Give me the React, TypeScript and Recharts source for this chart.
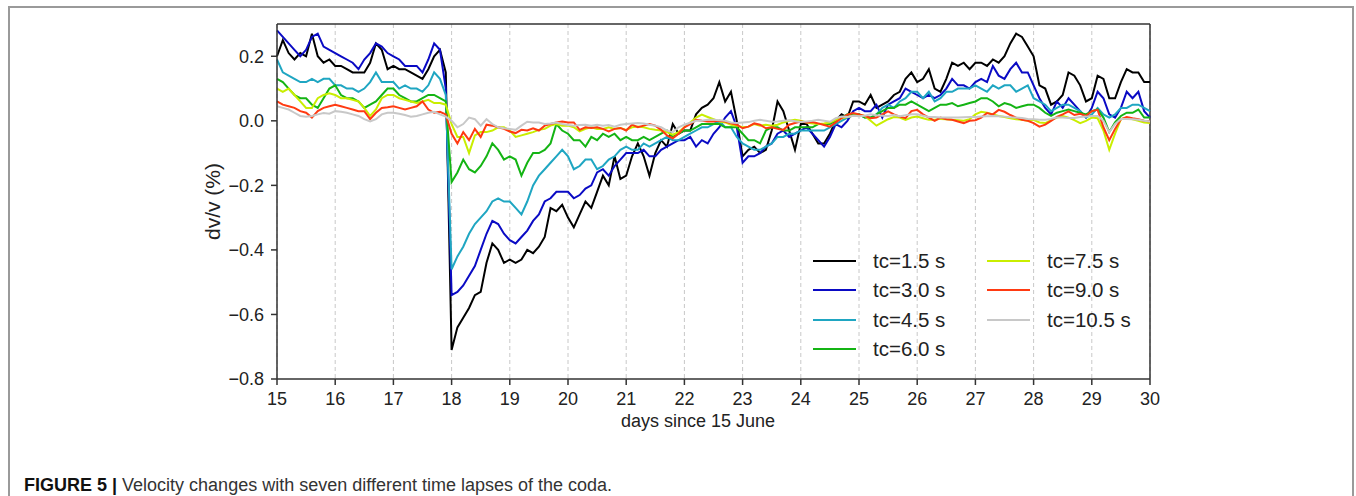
import { LineChart, Line, XAxis, YAxis, CartesianGrid, ReferenceLine, Label } from "recharts";

const FONT = '"Liberation Sans", Arial, Helvetica, sans-serif';

// samples every 0.1 day from day 15 to day 30
const START_DAY = 15;
const STEP = 0.1;

const xTicks = [15, 16, 17, 18, 19, 20, 21, 22, 23, 24, 25, 26, 27, 28, 29, 30];
const yTicks = [-0.8, -0.6, -0.4, -0.2, 0, 0.2];

const tc15 = [
  0.20, 0.25, 0.21, 0.19, 0.21, 0.20, 0.27, 0.20, 0.18, 0.19,
  0.17, 0.17, 0.16, 0.15, 0.15, 0.15, 0.18, 0.24, 0.22, 0.16,
  0.17, 0.16, 0.16, 0.15, 0.14, 0.13, 0.16, 0.20, 0.22, 0.15,
  -0.71, -0.64, -0.61, -0.58, -0.54, -0.53, -0.44, -0.38, -0.40, -0.44,
  -0.43, -0.44, -0.43, -0.40, -0.41, -0.39, -0.36, -0.27, -0.28, -0.26,
  -0.30, -0.33, -0.29, -0.25, -0.27, -0.22, -0.17, -0.20, -0.11, -0.18,
  -0.17, -0.11, -0.07, -0.11, -0.17, -0.10, -0.06, -0.08, -0.01, -0.04,
  -0.03, -0.03, 0.02, 0.04, 0.05, 0.07, 0.12, 0.06, 0.09, 0.00,
  -0.11, -0.09, -0.08, -0.10, -0.09, -0.03, 0.06, 0.03, -0.03, -0.09,
  -0.01, -0.01, -0.04, -0.07, -0.07, -0.04, 0.00, 0.02, 0.01, 0.06,
  0.06, 0.05, 0.08, 0.04, 0.05, 0.06, 0.08, 0.09, 0.13, 0.15,
  0.12, 0.13, 0.16, 0.10, 0.09, 0.13, 0.18, 0.17, 0.18, 0.16,
  0.18, 0.18, 0.17, 0.19, 0.18, 0.20, 0.24, 0.27, 0.26, 0.23,
  0.20, 0.11, 0.10, 0.05, 0.06, 0.08, 0.15, 0.14, 0.11, 0.06,
  0.07, 0.14, 0.13, 0.07, 0.07, 0.12, 0.16, 0.15, 0.15, 0.12,
  0.12,
];

const tc30 = [
  0.28, 0.26, 0.24, 0.22, 0.20, 0.22, 0.26, 0.27, 0.23, 0.22,
  0.21, 0.20, 0.19, 0.18, 0.16, 0.19, 0.21, 0.24, 0.23, 0.21,
  0.20, 0.19, 0.17, 0.17, 0.17, 0.15, 0.19, 0.24, 0.22, 0.10,
  -0.54, -0.53, -0.51, -0.48, -0.45, -0.40, -0.35, -0.31, -0.32, -0.35,
  -0.37, -0.38, -0.36, -0.34, -0.31, -0.29, -0.25, -0.24, -0.22, -0.22,
  -0.22, -0.24, -0.23, -0.21, -0.20, -0.16, -0.15, -0.17, -0.14, -0.12,
  -0.10, -0.10, -0.10, -0.09, -0.11, -0.11, -0.09, -0.08, -0.07, -0.06,
  -0.06, -0.05, -0.08, -0.06, -0.07, -0.04, -0.02, 0.01, 0.03, -0.02,
  -0.13, -0.11, -0.11, -0.10, -0.08, -0.07, -0.04, -0.03, -0.05, -0.04,
  -0.03, -0.02, -0.04, -0.06, -0.08, -0.05, -0.01, -0.02, 0.00, 0.03,
  0.04, 0.03, 0.03, 0.05, 0.01, 0.05, 0.06, 0.07, 0.10, 0.09,
  0.08, 0.07, 0.08, 0.07, 0.08, 0.10, 0.13, 0.11, 0.11, 0.10,
  0.12, 0.13, 0.12, 0.17, 0.14, 0.13, 0.16, 0.18, 0.15, 0.15,
  0.11, 0.07, 0.04, 0.02, 0.06, 0.04, 0.07, 0.05, 0.03, 0.01,
  0.04, 0.09, 0.07, 0.02, 0.01, 0.04, 0.09, 0.07, 0.09, 0.03,
  0.01,
];

const tc45 = [
  0.19, 0.15, 0.14, 0.13, 0.12, 0.12, 0.13, 0.12, 0.13, 0.13,
  0.11, 0.11, 0.10, 0.10, 0.09, 0.10, 0.12, 0.15, 0.12, 0.12,
  0.12, 0.10, 0.11, 0.10, 0.10, 0.09, 0.11, 0.15, 0.13, 0.08,
  -0.46, -0.42, -0.39, -0.35, -0.32, -0.30, -0.28, -0.25, -0.24, -0.25,
  -0.25, -0.27, -0.29, -0.25, -0.20, -0.17, -0.15, -0.13, -0.11, -0.09,
  -0.11, -0.15, -0.14, -0.12, -0.12, -0.15, -0.14, -0.12, -0.11, -0.09,
  -0.08, -0.09, -0.09, -0.07, -0.08, -0.07, -0.06, -0.05, -0.06, -0.06,
  -0.05, -0.04, -0.03, -0.02, -0.02, -0.01, 0.00, -0.02, -0.02, -0.05,
  -0.07, -0.08, -0.09, -0.09, -0.08, -0.07, -0.05, -0.05, -0.04, -0.04,
  -0.03, -0.03, -0.03, -0.03, -0.03, -0.02, -0.01, 0.00, 0.01, 0.02,
  0.02, 0.01, 0.01, 0.02, 0.04, 0.05, 0.04, 0.06, 0.07, 0.09,
  0.09, 0.07, 0.09, 0.06, 0.07, 0.09, 0.09, 0.10, 0.10, 0.10,
  0.11, 0.10, 0.09, 0.11, 0.10, 0.11, 0.11, 0.09, 0.10, 0.11,
  0.07, 0.06, 0.05, 0.03, 0.04, 0.05, 0.05, 0.04, 0.03, 0.01,
  0.02, 0.04, 0.02, 0.01, 0.02, 0.04, 0.04, 0.05, 0.05, 0.04,
  0.03,
];

const tc60 = [
  0.13, 0.12, 0.10, 0.08, 0.07, 0.07, 0.05, 0.04, 0.07, 0.10,
  0.11, 0.08, 0.07, 0.07, 0.06, 0.04, 0.05, 0.06, 0.08, 0.10,
  0.10, 0.08, 0.07, 0.06, 0.06, 0.07, 0.08, 0.08, 0.07, 0.06,
  -0.19, -0.16, -0.12, -0.15, -0.16, -0.14, -0.11, -0.07, -0.09, -0.12,
  -0.11, -0.12, -0.17, -0.13, -0.10, -0.10, -0.09, -0.07, -0.01, -0.03,
  -0.04, -0.06, -0.06, -0.08, -0.05, -0.06, -0.04, -0.05, -0.04, -0.06,
  -0.05, -0.06, -0.06, -0.05, -0.06, -0.05, -0.04, -0.03, -0.05, -0.04,
  -0.03, -0.03, -0.02, -0.01, -0.01, -0.01, -0.01, -0.02, -0.02, -0.02,
  -0.04, -0.06, -0.06, -0.07, -0.03, -0.02, -0.02, -0.03, -0.03, -0.02,
  -0.02, -0.02, -0.02, -0.01, -0.01, -0.01, 0.00, 0.01, 0.02, 0.02,
  0.02, 0.01, 0.01, 0.02, 0.03, 0.04, 0.04, 0.05, 0.05, 0.06,
  0.05, 0.04, 0.03, 0.04, 0.05, 0.05, 0.055, 0.045, 0.05, 0.055,
  0.06, 0.07, 0.07, 0.06, 0.045, 0.055, 0.05, 0.04, 0.045, 0.05,
  0.05, 0.04, 0.025, 0.015, 0.025, 0.03, 0.035, 0.03, 0.025, 0.02,
  0.03, 0.035, 0.01, -0.035, -0.005, 0.015, 0.025, 0.025, 0.035, 0.01,
  0.01,
];

const tc75 = [
  0.10, 0.09, 0.10, 0.08, 0.06, 0.04, 0.04, 0.07, 0.08, 0.085,
  0.08, 0.07, 0.07, 0.065, 0.06, 0.04, 0.015, 0.035, 0.07, 0.08,
  0.08, 0.07, 0.065, 0.06, 0.055, 0.06, 0.065, 0.055, 0.055, 0.05,
  -0.01, -0.05, -0.05, -0.10, -0.045, -0.035, -0.035, -0.03, -0.02, -0.02,
  -0.03, -0.05, -0.045, -0.04, -0.035, -0.028, -0.025, -0.015, -0.01, -0.015,
  -0.015, -0.02, -0.033, -0.025, -0.02, -0.025, -0.025, -0.02, -0.025, -0.022,
  -0.028, -0.02, -0.018, -0.02, -0.025, -0.028, -0.03, -0.035, -0.043, -0.035,
  -0.02, -0.005, 0.01, 0.019, 0.012, 0.005, -0.002, -0.005, -0.012, -0.015,
  -0.02, -0.018, -0.01, -0.015, -0.012, -0.015, -0.012, -0.005, 0.0, 0.003,
  0.0, -0.005, -0.008, -0.01, -0.008, -0.005, 0.003, 0.008, 0.012, 0.016,
  0.018, 0.015, 0.0, -0.015, -0.005, 0.005, 0.012, 0.01, 0.003, 0.01,
  0.013, 0.008, 0.003, 0.003, 0.006, 0.005, 0.003, 0.002, 0.0, 0.005,
  0.02, 0.028, 0.025, 0.02, 0.015, 0.012, 0.008, 0.005, 0.003, 0.0,
  0.003, -0.005, -0.007, 0.002, 0.01, 0.015, 0.01, 0.002, -0.007, 0.0,
  0.01, 0.008, -0.03, -0.09, -0.04, 0.005, 0.01, 0.005, 0.0, -0.005,
  -0.007,
];

const tc90 = [
  0.06, 0.05, 0.045, 0.04, 0.03, 0.025, 0.01, 0.03, 0.04, 0.045,
  0.05, 0.045, 0.04, 0.035, 0.03, 0.03, 0.005, 0.025, 0.04, 0.042,
  0.045, 0.04, 0.035, 0.04, 0.045, 0.06, 0.035, 0.025, 0.028, 0.02,
  -0.04, -0.07, -0.035, -0.06, -0.025, -0.05, -0.012, -0.015, -0.02, -0.025,
  -0.033, -0.038, -0.028, -0.03, -0.023, -0.03, -0.015, -0.01, -0.005, -0.002,
  -0.005, -0.005, -0.028, -0.02, -0.022, -0.02, -0.025, -0.033, -0.025, -0.022,
  -0.03, -0.012, -0.02, -0.015, -0.01, -0.015, -0.028, -0.045, -0.054, -0.04,
  -0.02, -0.01, 0.003, 0.0, -0.002, -0.002, 0.0, -0.002, -0.008, -0.012,
  -0.023, -0.018, -0.008, -0.012, -0.023, -0.02, -0.025, -0.028, -0.012, -0.007,
  -0.002, -0.005, -0.004, -0.008, -0.013, -0.018, -0.005, 0.008, 0.019, 0.024,
  0.02, 0.015, 0.008, 0.01, 0.02, 0.029, 0.02, 0.013, 0.008, 0.03,
  0.034, 0.02, 0.01, 0.0, 0.01, 0.005, 0.003, -0.002, -0.007, 0.0,
  0.002, 0.01, 0.024, 0.02, 0.034, 0.028, 0.018, 0.01, 0.003, 0.0,
  -0.007, -0.018, -0.012, 0.0, 0.012, 0.02, 0.029, 0.018, 0.022, 0.015,
  0.03, 0.034, -0.02, -0.06, -0.025, 0.005, 0.012, 0.008, 0.005, 0.0,
  -0.002,
];

const tc105 = [
  0.045, 0.04, 0.035, 0.025, 0.015, 0.013, 0.015, 0.02, 0.024, 0.022,
  0.03, 0.028, 0.025, 0.02, 0.015, 0.005, -0.002, 0.005, 0.02, 0.025,
  0.025, 0.022, 0.018, 0.013, 0.015, 0.02, 0.025, 0.028, 0.02, 0.013,
  0.0, -0.02, -0.01, 0.01, 0.005, -0.015, 0.005, -0.01, -0.02, -0.023,
  -0.025, -0.028, -0.015, -0.003, -0.005, -0.005, -0.01, -0.008, -0.005, -0.01,
  -0.013, -0.015, -0.013, -0.012, -0.015, -0.012, -0.015, -0.013, -0.018, -0.012,
  -0.01, -0.008, -0.007, -0.008, -0.012, -0.015, -0.02, -0.03, -0.035, -0.02,
  -0.012, -0.006, 0.0, 0.0, 0.003, 0.003, 0.002, 0.0, -0.005, -0.007,
  -0.005, -0.004, 0.0, 0.003, 0.0, -0.003, -0.002, 0.0, 0.002, -0.001,
  -0.004, -0.002, 0.0, 0.003, 0.0, -0.003, 0.008, 0.013, 0.012, 0.016,
  0.014, 0.016, 0.02, 0.017, 0.016, 0.015, 0.018, 0.014, 0.017, 0.02,
  0.02, 0.016, 0.012, 0.012, 0.01, 0.01, 0.01, 0.01, 0.011, 0.012,
  0.012, 0.013, 0.014, 0.015, 0.014, 0.013, 0.011, 0.01, 0.009, 0.006,
  0.005, 0.003, 0.003, 0.006, 0.01, 0.01, 0.009, 0.009, 0.012, 0.013,
  0.015, 0.015, 0.0, -0.035, -0.01, 0.006, 0.006, 0.005, 0.003, 0.0,
  -0.002,
];

const seriesList = [
  { key: "tc15", name: "tc=1.5 s", color: "#000000", values: tc15 },
  { key: "tc30", name: "tc=3.0 s", color: "#0a0ac4", values: tc30 },
  { key: "tc45", name: "tc=4.5 s", color: "#1fa6c2", values: tc45 },
  { key: "tc60", name: "tc=6.0 s", color: "#14b414", values: tc60 },
  { key: "tc75", name: "tc=7.5 s", color: "#c9ee00", values: tc75 },
  { key: "tc90", name: "tc=9.0 s", color: "#ff3a12", values: tc90 },
  { key: "tc105", name: "tc=10.5 s", color: "#c8c8c8", values: tc105 },
];

const chartData = tc15.map((_, i) => {
  const row: Record<string, number> = { day: +(START_DAY + i * STEP).toFixed(1) };
  seriesList.forEach((s) => {
    row[s.key] = s.values[i];
  });
  return row;
});

const formatY = (v: number) => (v < 0 ? "\u2212" : "") + Math.abs(v).toFixed(1);

const AXIS_COLOR = "#333333";
const TEXT_COLOR = "#222222";

export default function App() {
  return (
    <div
      style={{
        position: "absolute",
        left: 0,
        top: 0,
        width: 1356,
        height: 496,
        overflow: "hidden",
        background: "#ffffff",
        fontFamily: FONT,
      }}
    >
      {/* figure frame */}
      <div
        style={{
          position: "absolute",
          left: 8,
          top: 6,
          width: 1346,
          height: 540,
          border: "2px solid #9a9a9a",
          boxSizing: "border-box",
        }}
      />
      <div style={{ position: "absolute", left: 0, top: 0 }}>
        <LineChart
          width={1356}
          height={496}
          data={chartData}
          margin={{ top: 24, right: 206, bottom: 87, left: 217 }}
        >
          <CartesianGrid horizontal={false} stroke="#c8c8c8" strokeDasharray="4 3" />
          <XAxis
            dataKey="day"
            type="number"
            domain={[15, 30]}
            ticks={xTicks}
            interval={0}
            height={30}
            tickSize={6}
            tickMargin={7}
            stroke={AXIS_COLOR}
            strokeWidth={1.5}
            tick={{ fontSize: 18, fill: TEXT_COLOR, fontFamily: FONT }}
          >
            <Label
              content={({ viewBox }: any) => (
                <text
                  x={viewBox.x + 421}
                  y={viewBox.y + 48}
                  textAnchor="middle"
                  fontSize={18}
                  fill={TEXT_COLOR}
                  fontFamily={FONT}
                >
                  days since 15 June
                </text>
              )}
            />
          </XAxis>
          <YAxis
            type="number"
            domain={[-0.8, 0.3]}
            ticks={yTicks}
            interval={0}
            width={60}
            tickSize={6}
            tickMargin={7}
            stroke={AXIS_COLOR}
            strokeWidth={1.5}
            tickFormatter={formatY}
            tick={{ fontSize: 18, fill: TEXT_COLOR, fontFamily: FONT }}
          >
            <Label
              content={({ viewBox }: any) => {
                const cx = viewBox.x - 5;
                const cy = viewBox.y + viewBox.height / 2;
                return (
                  <text
                    x={cx}
                    y={cy}
                    transform={`rotate(-90 ${cx} ${cy})`}
                    textAnchor="middle"
                    dominantBaseline="central"
                    fontSize={21}
                    fill={TEXT_COLOR}
                    fontFamily={FONT}
                  >
                    dv/v (%)
                  </text>
                );
              }}
            />
          </YAxis>
          <ReferenceLine y={0.3} stroke={AXIS_COLOR} strokeWidth={1.5} />
          <ReferenceLine x={30} stroke={AXIS_COLOR} strokeWidth={1.5} />
          {seriesList.map((s) => (
            <Line
              key={s.key}
              dataKey={s.key}
              name={s.name}
              type="linear"
              stroke={s.color}
              strokeWidth={2}
              dot={false}
              activeDot={false}
              isAnimationActive={false}
            />
          ))}
        </LineChart>
      </div>

      {/* legend, two columns, no frame */}
      {seriesList.map((s, i) => {
        const col = i < 4 ? 0 : 1;
        const row = i < 4 ? i : i - 4;
        const lineLeft = col === 0 ? 813 : 987;
        const textLeft = col === 0 ? 873 : 1047;
        const cy = 261 + row * 29.3;
        return (
          <div key={s.key}>
            <div
              style={{
                position: "absolute",
                left: lineLeft,
                top: cy - 1,
                width: 43,
                height: 2,
                background: s.color,
              }}
            />
            <div
              style={{
                position: "absolute",
                left: textLeft,
                top: cy - 15,
                height: 30,
                lineHeight: "30px",
                fontSize: 20.5,
                color: TEXT_COLOR,
                whiteSpace: "nowrap",
              }}
            >
              {s.name}
            </div>
          </div>
        );
      })}

      {/* caption */}
      <div
        style={{
          position: "absolute",
          left: 24,
          top: 474,
          lineHeight: "22px",
          fontSize: 18,
          color: "#333333",
          whiteSpace: "nowrap",
        }}
      >
        <span style={{ fontWeight: "bold", color: "#111111" }}>FIGURE 5 | </span>
        Velocity changes with seven different time lapses of the coda.
      </div>
    </div>
  );
}
